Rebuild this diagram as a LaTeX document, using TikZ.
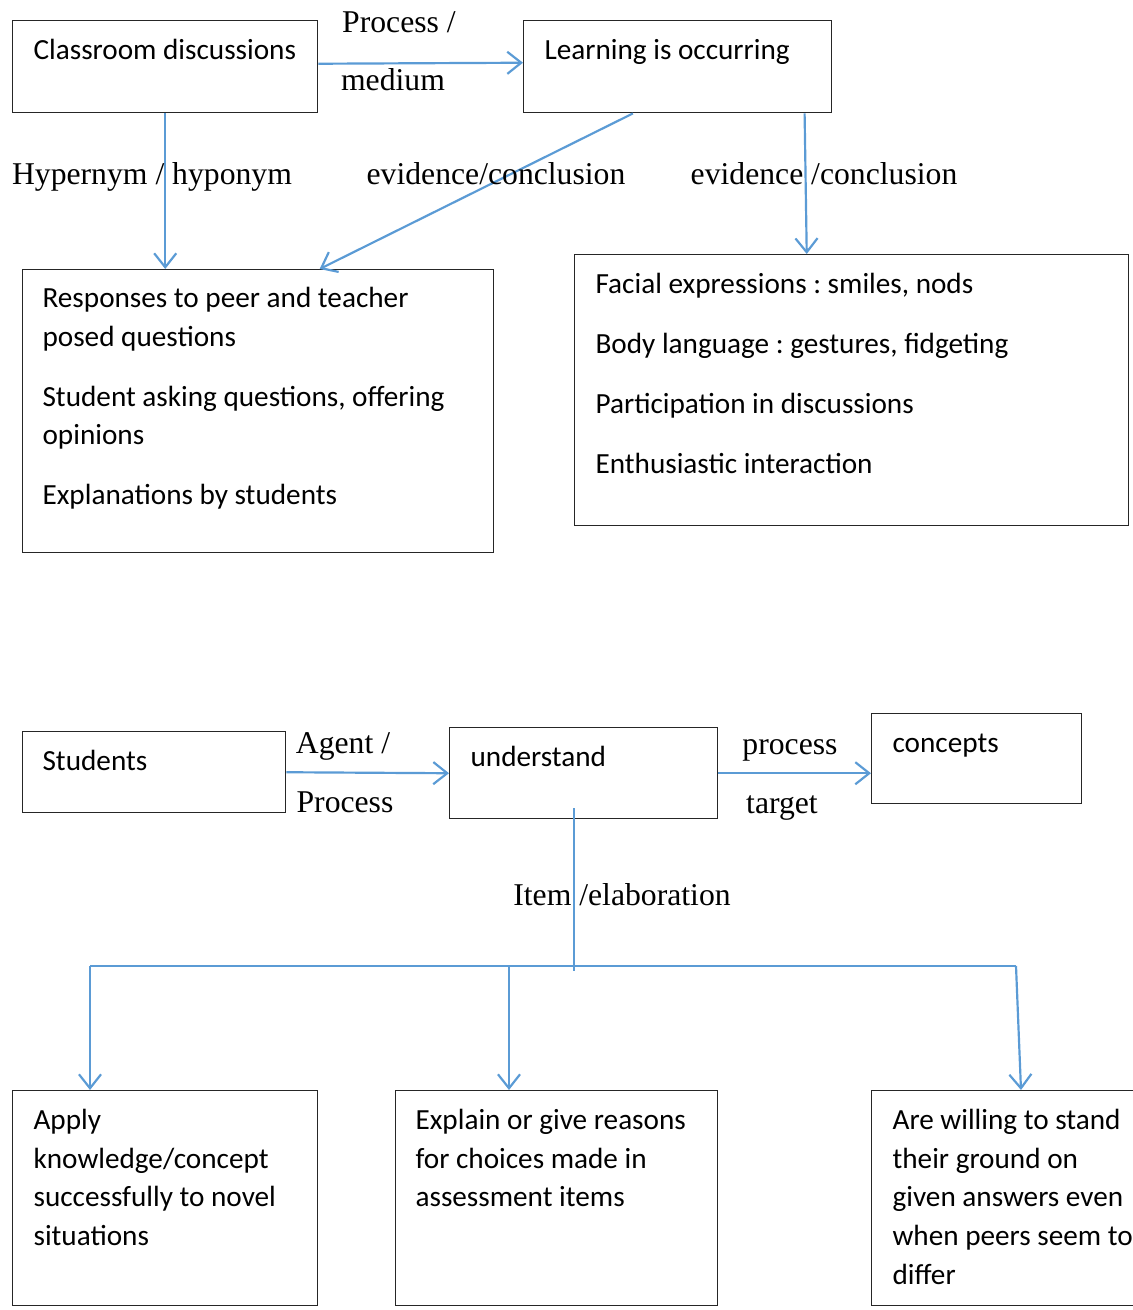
\documentclass[tikz,border=0pt]{standalone}
\usepackage{fontspec}
\setmainfont{Liberation Serif}
\newfontfamily\calibri{Carlito}
\usepackage{xcolor}
\usepackage{tikz}
\usetikzlibrary{arrows.meta,positioning,calc}
\def\px{0.344pt}
\definecolor{linkblue}{HTML}{5B9BD5}

\begin{document}
\begin{tikzpicture}[x=\px,y=-\px,>={Straight Barb[length=4.8pt,width=7.6pt]}]
    \tikzstyle{box}=[draw=black!85,line width=0.5pt,inner sep=0pt,anchor=north west]
    \tikzstyle{boxtext}=[anchor=north west,inner sep=0pt,align=left,font=\calibri\fontsize{10.05}{13.3}\selectfont\frenchspacing]
    \tikzstyle{link}=[->,draw=linkblue,line width=0.75pt]
    \tikzstyle{tree}=[draw=linkblue,line width=0.4pt]
    \tikzstyle{annot}=[anchor=base,inner sep=0pt,font=\fontsize{10.9}{13.3}\selectfont]

    \useasboundingbox (0,0) rectangle (1133,1310);

    % Top diagram: the boxes
    \node[box,minimum width=305*\px,minimum height=92*\px] (cls) at (12,20) {};
    \node[box,minimum width=308*\px,minimum height=92*\px] (learn) at (523,20) {};
    \node[box,minimum width=471*\px,minimum height=283*\px] (resp) at (22,269) {};
    \node[box,minimum width=554*\px,minimum height=271*\px] (face) at (574,254) {};

    \node[boxtext] (cls-t) at ($(cls.north west)+(21,12)$) {\strut Classroom discussions};
    \node[boxtext] (learn-t) at ($(learn.north west)+(21,12)$) {\strut Learning is occurring};
    \node[boxtext] (resp-t) at ($(resp.north west)+(20,11)$) {\strut Responses to peer and teacher\\ posed questions\\[7.3pt]
        Student asking questions, offering\\ opinions\\[7.3pt] Explanations by students};
    \node[boxtext] (face-t) at ($(face.north west)+(21,12)$) {\strut Facial expressions : smiles, nods\\[7.3pt]
        Body language : gestures, fidgeting\\[7.3pt] Participation in discussions\\[7.3pt] Enthusiastic interaction};

    % Top diagram: the links
    \draw[link] ($(cls.east)+(0,-3)$) -- ($(learn.west)+(0,-4)$);
    \draw[link] (cls.south) -- (cls.south |- resp.north);
    \draw[link] ($(learn.south west)!0.355!(learn.south east)$) -- ($(resp.north west)!0.63!(resp.north east)$);
    \draw[link] ($(learn.south west)!0.91!(learn.south east)$) -- ($(face.north west)!0.419!(face.north east)$);

    \node[annot] (l-proc) at (399,32) {Process /};
    \node[annot] (l-med) at (393,90) {medium};
    \node[annot] (l-hyp) at (152,184) {Hypernym / hyponym};
    \node[annot] (l-ev1) at (496,184) {evidence/conclusion};
    \node[annot] (l-ev2) at (824,184) {evidence /conclusion};

    % Bottom diagram: the boxes
    \node[box,minimum width=263*\px,minimum height=81*\px] (stud) at (22,731) {};
    \node[box,minimum width=268*\px,minimum height=91*\px] (und) at (449,727) {};
    \node[box,minimum width=210*\px,minimum height=90*\px] (conc) at (871,713) {};
    \node[box,minimum width=305*\px,minimum height=215*\px] (apply) at (12,1090) {};
    \node[box,minimum width=322*\px,minimum height=215*\px] (expl) at (395,1090) {};
    \node[box,minimum width=264*\px,minimum height=215*\px] (will) at (871,1090) {};

    \node[boxtext] (stud-t) at ($(stud.north west)+(20,12)$) {\strut Students};
    \node[boxtext] (und-t) at ($(und.north west)+(21,12)$) {\strut understand};
    \node[boxtext] (conc-t) at ($(conc.north west)+(21,12)$) {\strut concepts};
    \node[boxtext] (apply-t) at ($(apply.north west)+(21,12)$) {\strut Apply\\ knowledge/concept\\ successfully to novel\\ situations};
    \node[boxtext] (expl-t) at ($(expl.north west)+(20,12)$) {\strut Explain or give reasons\\ for choices made in\\ assessment items};
    \node[boxtext] (will-t) at ($(will.north west)+(21,12)$) {\strut Are willing to stand\\ their ground on\\ given answers even\\ when peers seem to\\ differ};

    % Bottom diagram: the links
    \draw[link] (stud.east) -- (und.west);
    \draw[link] (und.east) -- (und.east -| conc.west);

    \coordinate (stem) at (574,808);
    \coordinate (hub) at (574,971);
    \coordinate (b1) at (90,966);
    \coordinate (b2) at (509,966);
    \coordinate (b3) at (1016,966);
    \draw[tree] (stem) -- (hub);
    \draw[tree] (b1) -- (b3);
    \draw[link] (b1) -- (b1 |- apply.north);
    \draw[link] (b2) -- (b2 |- expl.north);
    \draw[link] (b3) -- ($(b3 |- will.north)+(5,0)$);

    \node[annot] (l-agent) at (343,753) {Agent /};
    \node[annot] (l-proc2) at (345,812) {Process};
    \node[annot] (l-process) at (790,754) {process};
    \node[annot] (l-target) at (782,813) {target};
    \node[annot] (l-item) at (622,905) {Item /elaboration};

\end{tikzpicture}
\end{document}
